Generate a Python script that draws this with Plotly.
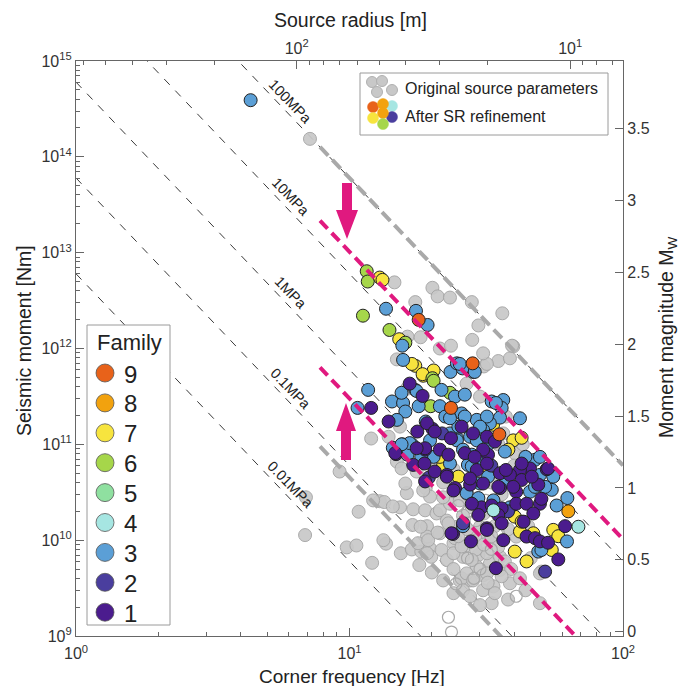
import numpy as np
import plotly.graph_objects as go

# ---------------- data ----------------
# Original source parameters (grey, filled)
gray_fc = [7.17, 14.6, 17.4, 20.1, 21.0, 23.3, 16.3, 18.2, 21.4, 23.5,
           14.9, 28.0, 36.2, 29.6, 28.1, 39.7, 35.0, 38.6, 31.0, 12.0,
           13.9, 14.9, 19.0, 12.9, 9.2, 40.2, 10.8, 6.88, 9.77, 10.6,
           13.6, 12.1, 15.4, 13.4, 15.3, 17.1, 17.0, 19.2, 18.9, 20.8,
           16.9, 18.3, 19.7, 19.9, 21.7, 22.7, 24.0, 19.2, 21.4, 17.8,
           24.0, 25.3, 24.3, 26.4, 26.0, 29.6, 29.2, 32.6, 35.5, 38.6,
           30.8, 27.6, 25.7, 30.8, 26.0, 27.6, 33.1, 49.7, 50.3, 24.0,
           28.3, 40.7, 13.3, 18.2, 19.4, 21.4, 23.3, 25.3, 19.7, 18.6,
           16.2, 14.4, 29.2, 26.8, 28.3, 31.8, 33.6, 49.7, 25.7, 31.8,
           35.5, 30.0, 32.1, 24.7, 22.7, 19.2, 15.5, 16.0, 17.6, 12.2,
           31.8, 39.3, 30.8, 16.2, 26.8, 30.0, 18.3, 15.3, 37.3, 36.5,
           6.93, 22.0, 24.0, 27.0, 20.0, 33.0, 36.0, 40.0, 35.0, 43.0,
           28.0, 31.0, 26.0, 34.0, 38.0, 22.0, 45.0, 21.0, 23.0, 25.0,
           27.0, 29.0, 31.0, 33.0, 35.0, 37.0, 39.0, 42.0, 44.0, 34.0,
           36.0, 32.0, 28.0, 24.0, 22.0, 20.0, 18.0, 46.0, 30.0, 38.0]
gray_m0 = [1.54e14, 4.9e12, 3.05e12, 4.3e12, 3.5e12, 3.4e12, 1.33e12, 1.31e12, 1.0e12, 1.07e12,
           7.7e11, 3.05e12, 2.33e12, 1.74e12, 1.23e12, 1.05e12, 7.4e11, 7.9e11, 6.5e11, 1.15e11,
           1.2e11, 6.6e10, 3.5e10, 2.55e10, 5.2e10, 8.1e10, 1.98e10, 1.13e10, 8.4e9, 8.8e9,
           9.2e9, 5.8e9, 7.3e9, 2.5e10, 2.2e10, 2.1e10, 1.44e10, 1.4e10, 2.05e10, 1.9e10,
           8.0e9, 7.6e9, 8.2e9, 6.7e9, 7.9e9, 6.2e9, 9.3e9, 1.09e10, 1.18e10, 9.3e9,
           2.8e9, 3.8e9, 1.05e10, 8.6e9, 6.7e9, 7.0e9, 5.3e9, 5.7e9, 4.9e9, 3.55e9,
           4.3e9, 3.8e9, 4.0e9, 3.0e9, 3.0e9, 2.6e9, 2.2e9, 2.2e9, 4.7e9, 7.3e9,
           1.18e10, 1.09e10, 1.0e10, 1.38e10, 1.0e10, 2.05e10, 2.4e10, 2.6e10, 2.85e10, 3.3e10,
           3.1e10, 2.25e10, 1.0e10, 4.5e9, 3.8e9, 4.5e9, 3.3e9, 4.5e9, 8.6e9, 7.3e9,
           6.7e9, 1.38e10, 1.09e10, 1.38e10, 1.6e10, 7.3e9, 5.6e10, 3.9e10, 5.2e10, 2.6e10,
           6.9e11, 1.07e12, 8.9e11, 3.8e11, 4.3e11, 3.15e11, 2.6e11, 1.53e11, 1.95e11, 1.3e11,
           2.8e10, 4.0e10, 5.5e10, 3.0e10, 6.0e10, 4.0e10, 3.0e10, 6.0e10, 1.0e11, 1.0e11,
           2.2e10, 1.9e10, 1.8e10, 1.4e10, 1.3e10, 2.8e10, 1.4e10, 1.2e10, 1.5e10, 1.1e10,
           1.3e10, 8.0e9, 9.0e9, 1.1e10, 8.5e9, 6.0e9, 5.0e9, 4.0e9, 3.0e9, 2.8e9,
           4.2e9, 3.6e9, 6.2e9, 5.0e9, 3.8e9, 4.6e9, 5.5e9, 6.5e9, 2.1e9, 2.4e9]

# Original source parameters (grey, open)
gray_open_fc = [23.0, 23.6, 40.7, 28.5, 30.0, 27.0, 33.0, 25.0, 29.0, 31.5, 27.0, 35.0, 24.5]
gray_open_m0 = [1.57e9, 1.1e9, 2.6e9, 4.0e9, 5.0e9, 6.5e9, 8.0e9, 2.3e10, 1.6e10, 2.6e10, 2.0e10, 1.2e10, 3.5e9]

# After SR refinement, by family
fam1_fc = [12.0, 13.9, 14.8, 18.5, 16.6, 17.7, 20.1, 18.9, 21.4, 17.1, 18.8, 20.5, 22.7, 23.5, 23.0,
           18.9, 24.3, 25.7, 32.1, 52.6, 45.7, 42.0, 35.5, 38.6, 49.0, 42.6, 40.7, 35.5, 30.8, 27.6,
           29.2, 26.4, 31.8, 30.4, 33.1, 36.0, 40.7, 44.4, 49.7, 29.6, 35.0, 47.0, 31.8, 36.0, 43.3,
           61.4, 44.4, 47.7, 49.7, 53.2, 58.0, 36.5, 34.3, 27.8, 23.9, 19.2, 20.5, 18.9, 17.6, 14.7,
           22.7, 24.0, 23.6, 31.8, 42.6, 46.4, 50.3, 53.2, 28.3, 31.8, 30.8, 34.0, 28.7, 37.3, 39.7,
           35.0, 27.6, 28.0]
fam1_m0 = [2.4e11, 1.73e11, 7.9e10, 3.2e11, 4.3e11, 1.36e11, 1.45e11, 8.8e10, 8.8e10, 6.1e10, 6.3e10, 5.2e10, 4.8e10, 1.16e11, 7.8e10,
           4.1e10, 3.5e10, 1.53e11, 7.8e10, 5.5e10, 5.6e10, 5.4e10, 5.0e10, 4.8e10, 3.8e10, 4.25e10, 3.2e10, 3.5e10, 3.9e10, 3.8e10,
           5.4e10, 8.1e10, 6.3e10, 2.2e10, 2.3e10, 2.15e10, 2.4e10, 2.4e10, 2.4e10, 1.83e10, 1.83e10, 1.9e10, 1.33e10, 1.5e10, 1.56e10,
           1.4e10, 1.09e10, 1.05e10, 9.7e9, 9.4e9, 6.3e9, 1.0e10, 5.1e9, 9.7e9, 1.16e10, 1.66e11, 1.36e11, 9.1e10, 9.1e10, 8.1e10,
           4.6e10, 3.3e10, 1.18e10, 1.28e10, 6.3e10, 4.6e10, 2.7e10, 5.6e10, 1.3e11, 1.2e11, 8.8e10, 1.07e11, 7.4e10, 5.4e10, 3.6e10,
           3.6e10, 4.4e10, 2.4e10]
fam2_fc = [51.9, 26.0, 21.8, 33.0, 19.5, 38.0]
fam2_m0 = [4.7e9, 1.5e10, 1.3e11, 6.0e10, 4.5e10, 2.0e10]
fam3_fc = [4.35, 13.6, 17.5, 19.3, 15.6, 15.7, 23.4, 24.7, 28.3, 25.9, 11.7, 10.7, 14.4, 15.6, 16.9,
           16.3, 14.3, 15.7, 17.9, 17.4, 21.7, 24.3, 22.7, 19.0, 20.3, 26.4, 33.1, 36.5, 36.0, 35.5,
           42.0, 32.6, 30.8, 29.2, 25.7, 27.6, 24.7, 32.1, 37.0, 44.4, 47.7, 49.7, 54.9, 37.3, 45.7,
           27.1, 30.4, 38.6, 57.2, 62.4, 49.0, 50.3, 26.0, 25.3, 28.7, 15.5, 17.6, 21.4, 22.4, 16.0,
           14.9, 16.6, 15.5, 18.3, 26.8, 30.0, 29.6, 33.6, 32.1, 28.0, 23.3, 55.6, 51.9, 62.6, 49.7,
           44.0, 47.7, 34.3, 31.8, 30.0, 26.4, 24.7, 29.2, 26.0, 28.0, 19.7, 23.3, 25.0, 23.3]
fam3_m0 = [3.9e14, 2.6e12, 2.47e12, 1.76e12, 1.07e12, 7.6e11, 5.7e11, 7.0e11, 5.7e11, 6.2e11, 3.7e11, 2.4e11, 9.2e10, 1.0e11, 1.0e11,
           7.8e10, 2.8e11, 2.7e11, 2.5e11, 3.7e11, 3.7e11, 3.15e11, 2.0e11, 1.73e11, 7.4e10, 3.3e11, 2.8e11, 2.9e11, 2.4e11, 1.9e11,
           1.87e11, 1.66e11, 1.41e11, 1.8e11, 2.1e11, 1.2e11, 1.16e11, 1.0e11, 8.4e10, 7.2e10, 6.9e10, 4.8e10, 3.35e10, 4.1e10, 3.2e10,
           6.1e10, 6.6e10, 2.2e10, 2.3e10, 9.7e9, 7.6e9, 7.9e9, 1.4e10, 6.9e11, 5.7e11, 3.45e11, 3.6e11, 2.5e11, 1.95e11, 2.2e11,
           1.8e11, 1.03e11, 1.0e11, 7.4e10, 3.1e10, 3.9e10, 2.75e10, 2.6e10, 4.6e10, 5.9e10, 6.3e10, 4.6e10, 3.6e10, 2.75e10, 7.4e10,
           7.4e10, 3.6e10, 2.7e11, 1.95e11, 1.53e11, 1.95e11, 1.1e11, 1.1e11, 8.8e10, 7.8e10, 1.1e11, 1.3e11, 1.53e11, 1.87e11]
fam4_fc = [68.7, 33.6]
fam4_m0 = [1.38e10, 2.05e10]
fam5_fc = []
fam5_m0 = []
fam6_fc = [11.56, 11.66, 11.2, 14.0, 16.0, 20.1, 19.8, 20.3, 23.3]
fam6_m0 = [6.4e12, 5.0e12, 2.2e12, 1.56e12, 1.15e12, 4.9e11, 2.5e11, 4.6e11, 3.45e11]
fam7_fc = [12.9, 13.2, 15.2, 17.4, 20.3, 18.6, 22.0, 39.7, 42.6, 38.1, 40.2, 42.0, 55.6, 58.0, 54.9,
           40.2, 44.4, 16.9, 18.5, 21.4, 31.8, 42.6, 47.0, 25.0, 33.5]
fam7_m0 = [5.5e12, 5.2e12, 1.25e12, 6.6e11, 5.9e11, 5.2e11, 6.1e10, 1.1e11, 1.17e11, 8.8e10, 1.76e10, 1.23e10, 1.28e10, 1.1e10, 7.9e9,
           7.6e9, 6.0e9, 6.9e11, 5.4e11, 7.4e10, 5.9e10, 1.56e10, 1.18e10, 4.6e10, 1.6e11]
fam8_fc = [63.1]
fam8_m0 = [2.0e10]
fam9_fc = [17.9, 23.5, 28.2, 35.3]
fam9_m0 = [1.99e12, 2.4e11, 7.0e11, 1.27e11]

family_names = ["9", "8", "7", "6", "5", "4", "3", "2", "1"]
family_colors = {"9": "#e8621a", "8": "#f2a20e", "7": "#f7e43e", "6": "#a6d64a", "5": "#8fe0a0",
                 "4": "#a6e6e2", "3": "#5b9fd6", "2": "#4a3e9e", "1": "#4b1c8e"}
family_data = {"1": (fam1_fc, fam1_m0), "2": (fam2_fc, fam2_m0), "3": (fam3_fc, fam3_m0),
               "4": (fam4_fc, fam4_m0), "5": (fam5_fc, fam5_m0), "6": (fam6_fc, fam6_m0),
               "7": (fam7_fc, fam7_m0), "8": (fam8_fc, fam8_m0), "9": (fam9_fc, fam9_m0)}
draw_order = ["7", "6", "3", "2", "1", "9", "8", "4", "5"]

# reference stress-drop lines
stress_levels = [0.01, 0.1, 1, 10, 100]            # MPa, thin black dashed
stress_labels = ["0.01MPa", "0.1MPa", "1MPa", "10MPa", "100MPa"]
grey_bounds = [100, 0.075]                          # MPa, original range
pink_bounds = [17, 0.5]                             # MPa, after refinement
K_RADIUS = 641.0                                    # source radius r = K/fc  [m Hz]

x_ticks = [1, 10, 100]
x_ticktext = ["10<sup>0</sup>", "10<sup>1</sup>", "10<sup>2</sup>"]
y_ticks = [1e9, 1e10, 1e11, 1e12, 1e13, 1e14, 1e15]
y_ticktext = ["10<sup>%d</sup>" % e for e in range(9, 16)]
mw_ticks = [0, 0.5, 1, 1.5, 2, 2.5, 3, 3.5]
mw_ticktext = ["0", "0.5", "1", "1.5", "2", "2.5", "3", "3.5"]
r_ticks = [100, 10]
r_ticktext = ["10<sup>2</sup>", "10<sup>1</sup>"]


def m0_line(stress_mpa, fc):
    r = K_RADIUS / np.asarray(fc, dtype=float)
    return 16.0 / 7.0 * stress_mpa * 1e6 * r ** 3


def mw(m0):
    return 2.0 / 3.0 * np.log10(m0) - 6.03


FONT = "Arial, Liberation Sans, sans-serif"
MAGENTA = "#e0197f"
GREYLINE = "#a9a9a9"

fig = go.Figure()

# thin stress-drop reference lines
fc_ends = np.array([1.0, 100.0])
for s in stress_levels:
    fig.add_trace(go.Scatter(x=fc_ends, y=m0_line(s, fc_ends), mode="lines",
                             line=dict(color="#3a3a3a", width=1, dash="8px,8px"),
                             hoverinfo="skip", showlegend=False))

# original (grey) points
fig.add_trace(go.Scatter(x=gray_fc, y=gray_m0, mode="markers",
                         marker=dict(size=13, color="#c8c8c8", opacity=0.92,
                                     line=dict(color="#a4a4a4", width=1)),
                         showlegend=False))
fig.add_trace(go.Scatter(x=gray_open_fc, y=gray_open_m0, mode="markers",
                         marker=dict(size=12, color="rgba(255,255,255,0)",
                                     line=dict(color="#a8a8a8", width=1.2)),
                         showlegend=False))

# refined (family-coloured) points
for name in draw_order:
    fcs, m0s = family_data[name]
    if len(fcs) == 0:
        continue
    fig.add_trace(go.Scatter(x=fcs, y=m0s, mode="markers", name=name,
                             marker=dict(size=13, color=family_colors[name],
                                         line=dict(color="#222222", width=1)),
                             showlegend=False))

# bounding lines
fc_bound = np.array([7.8, 100.0])
for s in grey_bounds:
    fig.add_trace(go.Scatter(x=fc_bound, y=m0_line(s, fc_bound), mode="lines",
                             line=dict(color=GREYLINE, width=4, dash="12px,6px"),
                             hoverinfo="skip", showlegend=False))
for s in pink_bounds:
    fig.add_trace(go.Scatter(x=fc_bound, y=m0_line(s, fc_bound), mode="lines",
                             line=dict(color=MAGENTA, width=4, dash="11px,6px"),
                             hoverinfo="skip", showlegend=False))

# invisible traces to activate the secondary axes
fig.add_trace(go.Scatter(x=[50], y=[1e12], xaxis="x2", yaxis="y", mode="markers",
                         marker=dict(opacity=0), hoverinfo="skip", showlegend=False))
fig.add_trace(go.Scatter(x=[10], y=[1.0], xaxis="x", yaxis="y2", mode="markers",
                         marker=dict(opacity=0), hoverinfo="skip", showlegend=False))

# ---------------- layout helpers (pixel -> paper) ----------------
L, R, T, B = 76, 623, 61, 636
W, H = R - L, B - T


def PX(px):
    return (px - L) / W


def PY(py):
    return (B - py) / H


def ptext(px, py, text, size, angle=0, xanchor="center"):
    return dict(x=PX(px), y=PY(py), xref="paper", yref="paper", text=text, showarrow=False,
                xanchor=xanchor, yanchor="middle", textangle=angle,
                font=dict(family=FONT, size=size, color="#222"))


annotations = []
shapes = []

# stress labels along lines
for s, lab in zip(stress_levels, stress_labels):
    fcl = 6.1
    annotations.append(dict(x=np.log10(fcl), y=np.log10(m0_line(s, fcl) * 1.42), xref="x", yref="y",
                            text=lab, showarrow=False, textangle=46, xanchor="center", yanchor="middle",
                            font=dict(family=FONT, size=14.5, color="#222")))

# axis titles
annotations += [
    ptext(350, 20, "Source radius [m]", 19.5),
    ptext(352, 676, "Corner frequency [Hz]", 19),
    ptext(24, 341, "Seismic moment [Nm]", 19.5, angle=-90),
    ptext(667, 337, "Moment magnitude M<sub>W</sub>", 19.5, angle=-90),
]


# arrows
def arrow_path(cx, y_tail, y_base, y_tip, hs, hh):
    pts = [(cx - hs, y_tail), (cx + hs, y_tail), (cx + hs, y_base), (cx + hh, y_base),
           (cx, y_tip), (cx - hh, y_base), (cx - hs, y_base)]
    return "M " + " L ".join("%.5f,%.5f" % (PX(a), PY(b)) for a, b in pts) + " Z"


for args in [(347, 183, 210, 239, 5, 11), (346, 460, 431, 403, 5, 10)]:
    shapes.append(dict(type="path", xref="paper", yref="paper", path=arrow_path(*args),
                       fillcolor=MAGENTA, line=dict(width=0), layer="above"))


def circ(cx, cy, r, fill, edge, ew=1.0):
    return dict(type="circle", xref="paper", yref="paper", xsizemode="pixel", ysizemode="pixel",
                xanchor=PX(cx), yanchor=PY(cy), x0=-r, x1=r, y0=-r, y1=r,
                fillcolor=fill, line=dict(color=edge, width=ew), layer="above")


# legend: source parameters (top right)
shapes.append(dict(type="rect", xref="paper", yref="paper", x0=PX(360), x1=PX(608), y0=PY(135), y1=PY(73),
                   fillcolor="white", line=dict(color="#9a9a9a", width=1), layer="above"))
for cx, cy in [(372, 82), (382, 81), (377, 92), (392, 90)]:
    shapes.append(circ(cx, cy, 5.5, "#c8c8c8", "#b0b0b0"))
for (cx, cy), fam in zip([(373, 107), (392, 106), (383, 104), (392, 117), (373, 118), (383, 113), (383, 124)],
                         ["9", "4", "8", "2", "7", "8", "6"]):
    shapes.append(circ(cx, cy, 5.5, family_colors[fam], family_colors[fam], 0.5))
annotations += [
    ptext(403, 88, "Original source parameters", 16, xanchor="left"),
    ptext(403, 117, "After SR refinement", 16, xanchor="left"),
]

# legend: Family (bottom left)
shapes.append(dict(type="rect", xref="paper", yref="paper", x0=PX(87), x1=PX(170), y0=PY(625), y1=PY(325),
                   fillcolor="white", line=dict(color="#9a9a9a", width=1), layer="above"))
annotations.append(ptext(129, 342, "Family", 22))
for i, name in enumerate(family_names):
    cy = 373 + 29.9 * i
    shapes.append(circ(105, cy, 9, family_colors[name], "#555555", 0.8))
    annotations.append(ptext(122, cy + 1, name, 24, xanchor="left"))

axis_common = dict(showline=True, linecolor="#666666", linewidth=1.2, ticks="inside", tickcolor="#666666",
                   showgrid=False, zeroline=False, tickfont=dict(family=FONT, size=16, color="#333"))

fig.update_layout(
    width=681, height=686,
    margin=dict(l=L, r=681 - R, t=T, b=686 - B, autoexpand=False),
    paper_bgcolor="white", plot_bgcolor="white",
    showlegend=False,
    xaxis=dict(type="log", range=[0, 2], tickmode="array", tickvals=x_ticks, ticktext=x_ticktext, ticklen=8,
               minor=dict(tickmode="array", tickvals=[v * d for d in (1, 10) for v in range(2, 10)],
                          ticks="inside", ticklen=4, tickcolor="#666666", showgrid=False),
               ticklabelstandoff=3, **axis_common),
    xaxis2=dict(type="log", overlaying="x", side="top", range=[np.log10(K_RADIUS), np.log10(K_RADIUS / 100.0)],
                tickmode="array", tickvals=r_ticks, ticktext=r_ticktext, ticklen=8,
                minor=dict(tickmode="array", tickvals=[600, 500, 400, 300, 200, 90, 80, 70, 60, 50, 40, 30, 20, 9, 8, 7],
                           ticks="inside", ticklen=4, tickcolor="#666666", showgrid=False),
                **axis_common),
    yaxis=dict(type="log", range=[9, 15], tickmode="array", tickvals=y_ticks, ticktext=y_ticktext, ticklen=8,
               minor=dict(tickmode="array", tickvals=[v * 10 ** e for e in range(9, 15) for v in range(2, 10)],
                          ticks="inside", ticklen=4, tickcolor="#666666", showgrid=False),
               **axis_common),
    yaxis2=dict(overlaying="y", side="right", range=[mw(1e9), mw(1e15)], tickmode="array",
                tickvals=mw_ticks, ticktext=mw_ticktext, ticklen=8, **axis_common),
    annotations=annotations,
    shapes=shapes,
)

fig.write_html("out.html", config={"displayModeBar": False},
               post_script="document.body.style.margin='0';")
